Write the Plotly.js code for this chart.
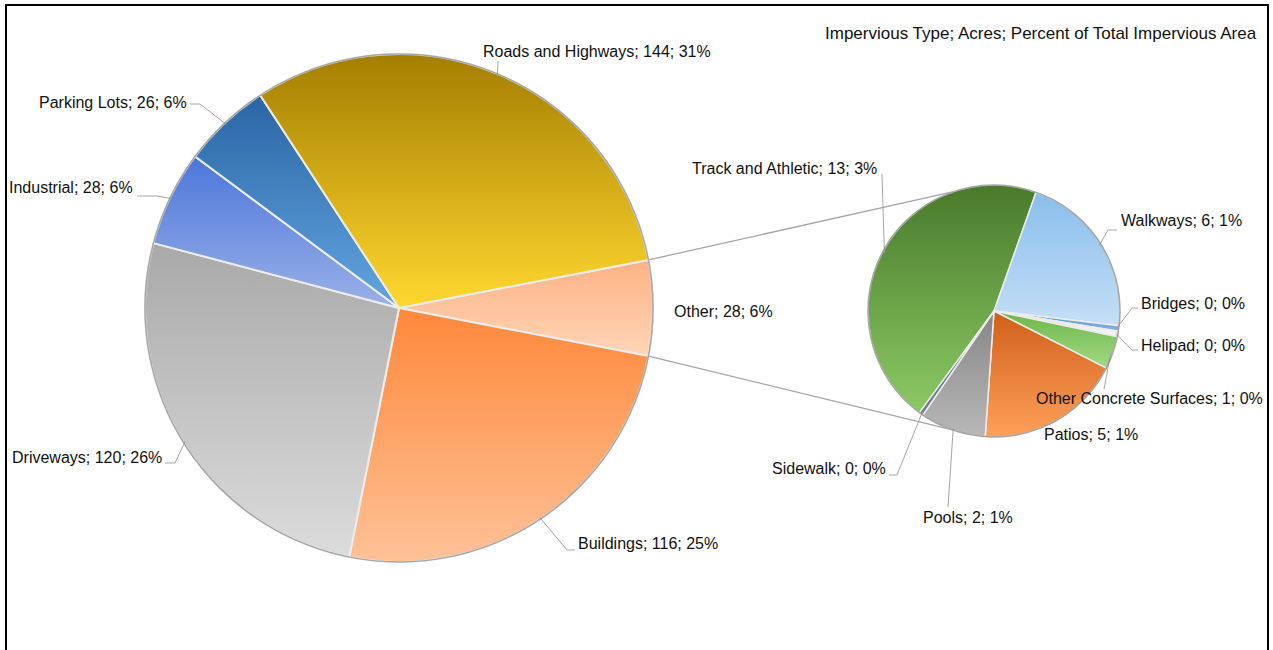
<!DOCTYPE html>
<html><head><meta charset="utf-8">
<script src="https://cdn.plot.ly/plotly-3.0.1.min.js"></script>
<style>html,body{margin:0;padding:0;background:#fff;overflow:hidden}#chart{width:1273px;height:650px}</style>
</head><body><div id="chart"></div>
<script>
// ---------- data ----------
const mainLabels = ["Other", "Buildings", "Driveways", "Industrial", "Parking Lots", "Roads and Highways"];
const mainAcres  = [28, 116, 120, 28, 26, 144];
const mainColors = ["#FFC39C", "#FCA463", "#C4C4C4", "#7393DE", "#3F80C2", "#DDAE1C"];
const mainTop    = ["#FDB283", "#FF883A", "#A9A9A9", "#4C76DA", "#2A64A4", "#A47E00"];
const mainBottom = ["#FFD6B8", "#FFC197", "#DCDCDC", "#9BB1E7", "#62A6E0", "#FFD830"];

const subLabels = ["Track and Athletic", "Walkways", "Bridges", "Helipad", "Other Concrete Surfaces", "Patios", "Pools", "Sidewalk"];
const subAcres  = [12.9, 6.1, 0.2, 0.2, 1.2, 5.3, 2.4, 0.15];
const subColors = ["#68A344", "#A8CEF0", "#5A92D2", "#EEEEEE", "#8FCF6C", "#F0842F", "#A0A0A0", "#4D5E78"];
const subTop    = ["#497A2B", "#88BEEB", "#4C8BCD", "#DEDEDE", "#6DB649", "#CF5F1A", "#868686", "#415169"];
const subBottom = ["#8CCA64", "#C6DFF7", "#86B5E3", "#F7F7F7", "#A2DA84", "#FFA05A", "#B8B8B8", "#6E7E94"];

const headerText = "Impervious Type; Acres; Percent of Total Impervious Area";

// ---------- layout geometry (pixels) ----------
const W = 1273, H = 650;
const MAIN = {cx: 399, cy: 308, r: 254};
const SUB  = {cx: 994, cy: 311, r: 126};
const FONT = "Liberation Sans Narrow, Arial Narrow, Liberation Sans, Arial, sans-serif";
const FS = 16;

const mainLabelPos = [
  {x: 673, y: 311, a: 'left',  lead: null},
  {x: 577, y: 543, a: 'left',  lead: [[567, 550], [575, 550]]},
  {x: 163, y: 457, a: 'right', lead: [[175, 463], [165, 463]]},
  {x: 134, y: 188, a: 'right', lead: [[157, 196], [137, 196]]},
  {x: 188, y: 102, a: 'right', lead: [[200, 104], [190, 104]]},
  {x: 482, y: 52,  a: 'left',  lead: [[498, 61]]}
];
const subLabelPos = [
  {x: 878, y: 168, a: 'right', lead: [[882, 174]]},
  {x: 1120, y: 220, a: 'left', lead: [[1108, 230], [1117, 230]]},
  {x: 1140, y: 303, a: 'left', lead: [[1132, 308], [1138, 308]]},
  {x: 1140, y: 345, a: 'left', lead: [[1132, 350], [1138, 350]]},
  {x: 1035, y: 398, a: 'left', lead: [[1104, 389]]},
  {x: 1043, y: 435, a: 'left', lead: null},
  {x: 922, y: 517, a: 'left',  lead: [[948, 507]]},
  {x: 887, y: 468, a: 'right', lead: [[897, 475], [889, 475]]}
];

// ---------- helpers ----------
const px = x => x / W;
const py = y => 1 - y / H;
const sum = a => a.reduce((s, v) => s + v, 0);
const rad = d => d * Math.PI / 180;
function edge(g, ang, dr) { const r = g.r + (dr || 0); return [g.cx + r * Math.sin(rad(ang)), g.cy - r * Math.cos(rad(ang))]; }
function spans(vals, rot) {
  const t = sum(vals); let a = rot; const out = [];
  vals.forEach(v => { const s = v / t * 360; out.push({start: a, end: a + s, mid: a + s / 2}); a += s; });
  return out;
}
function domainOf(g) { return {x: [px(g.cx - g.r), px(g.cx + g.r)], y: [py(g.cy + g.r), py(g.cy - g.r)]}; }
function pathOf(pts) { return pts.map((p, i) => (i ? 'L' : 'M') + px(p[0]).toFixed(5) + ',' + py(p[1]).toFixed(5)).join(' '); }

const total = sum(mainAcres);
const mainRot = 90 - (mainAcres[0] / total * 360) / 2;
const subTotal = sum(subAcres);
const subRot = 19.5 - subAcres[0] / subTotal * 360;
const mainSp = spans(mainAcres, mainRot);
const subSp = spans(subAcres, subRot);

const labelText = (n, v) => `${n}; ${Math.round(v)}; ${Math.round(v / total * 100)}%`;

const annotations = [];
const shapes = [];
const leaderLine = {color: '#A6A6A6', width: 1};

function addLabels(names, vals, pos, sp, g) {
  names.forEach((n, i) => {
    const p = pos[i];
    annotations.push({xref: 'paper', yref: 'paper', x: px(p.x), y: py(p.y), xanchor: p.a, yanchor: 'middle',
      text: labelText(n, vals[i]), showarrow: false, borderpad: 0, font: {family: FONT, size: FS, color: '#111'}});
    if (p.lead) {
      const pts = [edge(g, sp[i].mid, -2)].concat(p.lead);
      shapes.push({type: 'path', xref: 'paper', yref: 'paper', path: pathOf(pts), line: leaderLine, layer: 'above'});
    }
  });
}
addLabels(mainLabels, mainAcres, mainLabelPos, mainSp, MAIN);
addLabels(subLabels, subAcres, subLabelPos, subSp, SUB);

annotations.push({xref: 'paper', yref: 'paper', x: px(1258), y: py(33), xanchor: 'right', yanchor: 'middle',
  text: headerText, showarrow: false, borderpad: 0, font: {family: FONT, size: 17, color: '#111'}});

// connector lines between the "Other" slice and the secondary pie
const toMain = Math.atan2(MAIN.cx - SUB.cx, -(MAIN.cy - SUB.cy)) * 180 / Math.PI;
const spread = 71;
const conn = {color: '#A6A6A6', width: 1.3};
shapes.push({type: 'path', xref: 'paper', yref: 'paper', layer: 'below', line: conn,
  path: pathOf([edge(MAIN, mainSp[0].start), edge(SUB, toMain + spread)])});
shapes.push({type: 'path', xref: 'paper', yref: 'paper', layer: 'below', line: conn,
  path: pathOf([edge(MAIN, mainSp[0].end), edge(SUB, toMain - spread)])});

// pie rims
[MAIN, SUB].forEach(g => shapes.push({type: 'circle', xref: 'paper', yref: 'paper', layer: 'above',
  x0: px(g.cx - g.r), x1: px(g.cx + g.r), y0: py(g.cy + g.r), y1: py(g.cy - g.r),
  line: {color: 'rgba(110,110,110,0.55)', width: 1.5}}));

// chart frame
shapes.push({type: 'rect', xref: 'paper', yref: 'paper', layer: 'above',
  x0: px(6), x1: px(1268), y0: py(700), y1: py(5), line: {color: '#000', width: 2}});

const traces = [
  {type: 'pie', name: 'main', labels: mainLabels, values: mainAcres, sort: false, direction: 'clockwise',
   rotation: mainRot, domain: domainOf(MAIN), textinfo: 'none', hoverinfo: 'label+value+percent',
   marker: {colors: mainColors, line: {color: '#ECECEC', width: 2}}},
  {type: 'pie', name: 'sub', labels: subLabels, values: subAcres, sort: false, direction: 'clockwise',
   rotation: subRot, domain: domainOf(SUB), textinfo: 'none', hoverinfo: 'label+value',
   marker: {colors: subColors, line: {color: '#ECECEC', width: 1.5}}}
];

const layout = {
  width: W, height: H, margin: {l: 0, r: 0, t: 0, b: 0},
  paper_bgcolor: '#fff', plot_bgcolor: '#fff', showlegend: false,
  font: {family: FONT, size: FS, color: '#111'},
  annotations: annotations, shapes: shapes
};

// vertical shading of each slice (darker top, lighter bottom), like the original 3-D style
function shadeSlices(gd) {
  const svg = gd.querySelector('svg.main-svg');
  let defs = svg.querySelector('defs');
  const NS = 'http://www.w3.org/2000/svg';
  const sets = [[mainTop, mainBottom], [subTop, subBottom]];
  gd.querySelectorAll('.pielayer .trace').forEach((tr, t) => {
    tr.querySelectorAll('.slice path.surface').forEach((p, i) => {
      const id = 'shade-' + t + '-' + i;
      const lg = document.createElementNS(NS, 'linearGradient');
      lg.setAttribute('id', id); lg.setAttribute('x1', '0'); lg.setAttribute('y1', '0');
      lg.setAttribute('x2', '0'); lg.setAttribute('y2', '1');
      [[0, sets[t][0][i]], [1, sets[t][1][i]]].forEach(s => {
        const st = document.createElementNS(NS, 'stop');
        st.setAttribute('offset', s[0]); st.setAttribute('stop-color', s[1]);
        lg.appendChild(st);
      });
      defs.appendChild(lg);
      p.style.fill = 'url(#' + id + ')';
    });
  });
}
Plotly.newPlot('chart', traces, layout, {staticPlot: true, displayModeBar: false}).then(shadeSlices);
</script>
</body></html>
